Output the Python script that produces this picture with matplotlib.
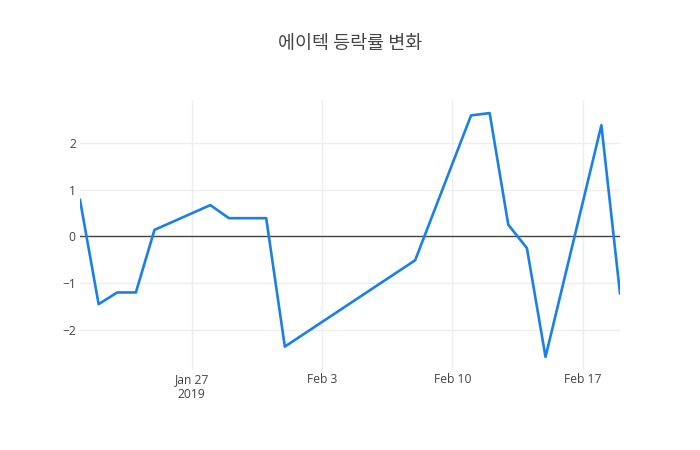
import matplotlib
matplotlib.use("Agg")
import matplotlib.pyplot as plt
import pandas as pd

# 에이텍 일별 등락률 (%)
dates = ["2019-01-21", "2019-01-22", "2019-01-23", "2019-01-24", "2019-01-25",
         "2019-01-28", "2019-01-29", "2019-01-30", "2019-01-31", "2019-02-01",
         "2019-02-08", "2019-02-11", "2019-02-12", "2019-02-13", "2019-02-14",
         "2019-02-15", "2019-02-18", "2019-02-19"]
rates = [0.78, -1.45, -1.20, -1.20, 0.14,
         0.67, 0.39, 0.39, 0.39, -2.36,
         -0.51, 2.59, 2.64, 0.25, -0.25,
         -2.58, 2.38, -1.22]

tick_dates = ["2019-01-27", "2019-02-03", "2019-02-10", "2019-02-17"]
tick_labels = ["Jan 27\n2019", "Feb 3", "Feb 10", "Feb 17"]
y_ticks = [-2, -1, 0, 1, 2]

x = pd.to_datetime(dates)

fig = plt.figure(figsize=(7, 4.5), dpi=100)
ax = fig.add_axes([80 / 700, 80 / 450, 540 / 700, 270 / 450])

ax.plot(x, rates, color="#1a80e8", linewidth=1.9, zorder=3)
ax.axhline(0, color="#444444", linewidth=1, zorder=2)

ax.set_xlim(x[0], x[-1])
ax.set_ylim(-2.86, 2.92)

ax.set_xticks(pd.to_datetime(tick_dates))
ax.set_xticklabels(tick_labels, linespacing=1.25)
ax.set_yticks(y_ticks)
ax.set_yticklabels([str(v).replace("-", "\u2212") for v in y_ticks])

ax.grid(True, color="#eeeeee", linewidth=1, zorder=0)
for s in ax.spines.values():
    s.set_visible(False)
ax.tick_params(length=0, labelsize=8.7, labelcolor="#444444",
               labelfontfamily="Open Sans")
ax.tick_params(axis="x", pad=2)
ax.tick_params(axis="y", pad=3)

fig.text(0.5, 1 - 44 / 450, "에이텍 등락률 변화", ha="center", va="center",
         fontsize=13.3, color="#444444", family=["Noto Sans CJK KR", "DejaVu Sans"])

fig.savefig("out.png", dpi=100, facecolor="white")
